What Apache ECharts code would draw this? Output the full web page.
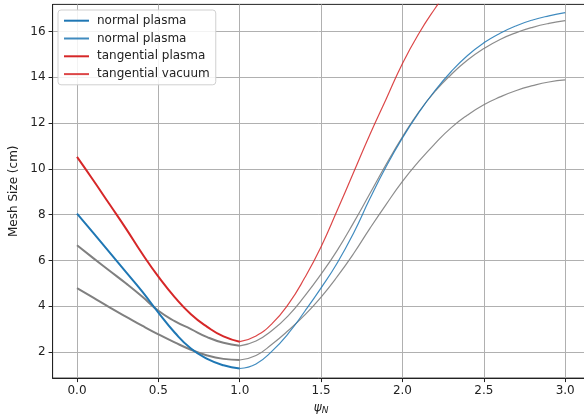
<!DOCTYPE html>
<html>
<head>
<meta charset="utf-8">
<script src="https://cdn.jsdelivr.net/npm/echarts@6/dist/echarts.min.js"></script>
<style>
  html, body { margin: 0; padding: 0; background: #fff; }
  #chart { width: 584px; height: 417px; }
</style>
</head>
<body>
<div id="chart"></div>
<script>
// psi_N grid for the two halves of the profile
const xLeft = [0, 0.1, 0.2, 0.3, 0.4, 0.5, 0.6, 0.7, 0.8, 0.9, 1.0];
const xRight = [1.0, 1.1, 1.2, 1.3, 1.4, 1.5, 1.6, 1.7, 1.8, 1.9, 2.0,
                2.1, 2.2, 2.3, 2.4, 2.5, 2.6, 2.7, 2.8, 2.9, 3.0];

// plasma side (0..1)
const normalPlasma = [8.04, 7.2, 6.35, 5.5, 4.65, 3.72, 2.85, 2.15, 1.7, 1.42, 1.28];
const tangPlasma = [10.52, 9.5, 8.45, 7.4, 6.3, 5.29, 4.4, 3.65, 3.1, 2.68, 2.45];
const greyUpperL = [6.66, 6.1, 5.55, 5.0, 4.42, 3.8, 3.35, 3.0, 2.65, 2.4, 2.27];
const greyLowerL = [4.79, 4.37, 3.95, 3.55, 3.15, 2.77, 2.42, 2.1, 1.85, 1.7, 1.65];

// vacuum side (1..3)
const normalVacuum = [1.28, 1.48, 2.05, 2.82, 3.78, 4.8, 5.9, 7.2, 8.7, 10.1, 11.35,
                      12.45, 13.42, 14.25, 14.95, 15.5, 15.92, 16.25, 16.5, 16.68, 16.82];
const tangVacuum = [2.45, 2.7, 3.25, 4.1, 5.25, 6.6, 8.2, 9.85, 11.5, 13.05, 14.6,
                    15.9, 17.0, 18.0];
const greyUpperR = [2.27, 2.48, 2.95, 3.6, 4.45, 5.4, 6.45, 7.65, 8.92, 10.2, 11.4,
                    12.48, 13.38, 14.12, 14.75, 15.25, 15.65, 15.95, 16.18, 16.35, 16.47];
const greyLowerR = [1.65, 1.85, 2.35, 2.95, 3.62, 4.4, 5.3, 6.3, 7.4, 8.45, 9.45,
                    10.32, 11.1, 11.8, 12.35, 12.8, 13.14, 13.42, 13.63, 13.79, 13.88];

const xTicks = [0, 0.5, 1.0, 1.5, 2.0, 2.5, 3.0];
const yTicks = [2, 4, 6, 8, 10, 12, 14, 16];

const pairs = (xs, ys) => ys.map((v, i) => [xs[i], v]);

const FONT = 'DejaVu Sans';

function line(name, xs, ys, color, width, opacity, z) {
    return {
        name: name,
        type: 'line',
        data: pairs(xs, ys),
        smooth: 0.5,
        symbol: 'none',
        showSymbol: false,
        lineStyle: { color: color, width: width, opacity: opacity },
        itemStyle: { color: color },
        z: z,
        silent: true
    };
}

const chart = echarts.init(document.getElementById('chart'));
chart.setOption({
    animation: false,
    grid: {
        left: 52.6, top: 4.4, width: 537, height: 373.7,
        outerBoundsMode: 'none', containLabel: false,
        show: true, borderColor: '#222', borderWidth: 1, backgroundColor: 'transparent'
    },
    legend: {
        left: 58, top: 10,
        orient: 'vertical',
        data: ['normal plasma', 'normal plasma ', 'tangential plasma', 'tangential vacuum'],
        itemWidth: 25, itemHeight: 12, itemGap: 5.8,
        padding: [4.7, 6, 4.7, 5],
        itemStyle: { opacity: 0, color: 'transparent', borderWidth: 0 },
        backgroundColor: 'rgba(255,255,255,0.85)',
        borderColor: '#d0d0d0', borderWidth: 1, borderRadius: 3,
        textStyle: { fontFamily: FONT, fontSize: 12, color: '#222', padding: [0, 0, 0, 3] }
    },
    xAxis: {
        type: 'value', min: -0.15, max: 3.15,
        name: '{p|ψ}{s|N}', nameLocation: 'middle', nameGap: 22,
        nameTextStyle: {
            rich: {
                p: { fontFamily: FONT, fontSize: 12, fontStyle: 'italic', color: '#222' },
                s: { fontFamily: FONT, fontSize: 9, fontStyle: 'italic', color: '#222', verticalAlign: 'bottom', padding: [6, 0, 0, 0] }
            }
        },
        axisLine: { onZero: false, lineStyle: { color: '#222', width: 1 } },
        axisTick: { show: true, length: 4, customValues: xTicks, lineStyle: { color: '#222' } },
        axisLabel: {
            customValues: xTicks, margin: 7,
            fontFamily: FONT, fontSize: 12, color: '#222',
            formatter: v => v.toFixed(1)
        },
        splitLine: { show: true, lineStyle: { color: '#b0b0b0', width: 1 } }
    },
    yAxis: {
        type: 'value', min: 0.86, max: 17.18,
        name: 'Mesh Size (cm)', nameLocation: 'middle', nameGap: 28,
        nameTextStyle: { fontFamily: FONT, fontSize: 12, color: '#222' },
        axisLine: { show: true, onZero: false, lineStyle: { color: '#222', width: 1 } },
        axisTick: { show: true, length: 4, customValues: yTicks, lineStyle: { color: '#222' } },
        axisLabel: {
            customValues: yTicks, margin: 7,
            fontFamily: FONT, fontSize: 12, color: '#222'
        },
        splitLine: { show: true, lineStyle: { color: '#b0b0b0', width: 1 } }
    },
    series: [
        line('grey-upper-l', xLeft, greyUpperL, '#808080', 2, 1, 2),
        line('grey-lower-l', xLeft, greyLowerL, '#808080', 2, 1, 2),
        line('grey-upper-r', xRight, greyUpperR, '#808080', 1.2, 0.9, 2),
        line('grey-lower-r', xRight, greyLowerR, '#808080', 1.2, 0.9, 2),
        line('normal plasma', xLeft, normalPlasma, '#1f77b4', 2, 1, 3),
        line('normal plasma ', xRight, normalVacuum, '#1f77b4', 1.2, 0.85, 3),
        line('tangential plasma', xLeft, tangPlasma, '#d62728', 2, 1, 3),
        line('tangential vacuum', xRight, tangVacuum, '#d62728', 1.2, 0.85, 3)
    ]
});
</script>
</body>
</html>
